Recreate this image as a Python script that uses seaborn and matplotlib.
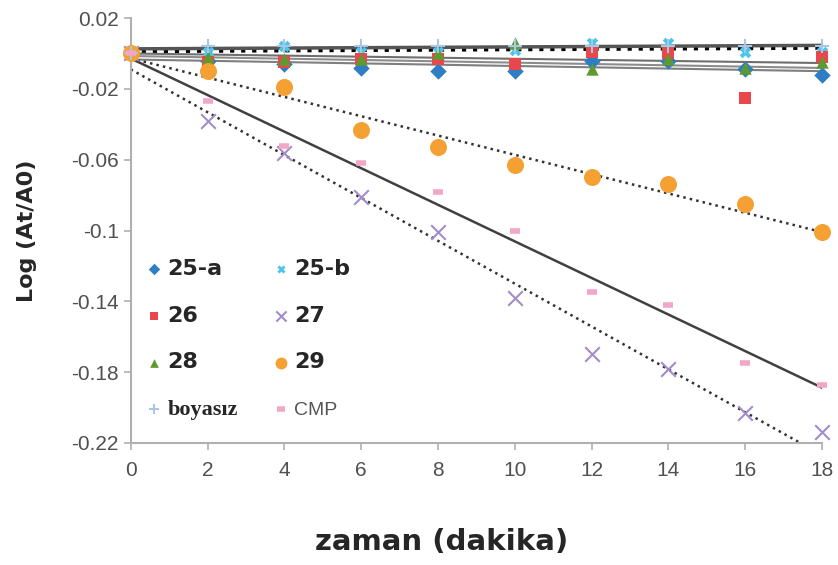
import matplotlib
matplotlib.use("Agg")
import matplotlib.pyplot as plt
import seaborn as sns
import pandas as pd

# time (minutes)
zaman = [0, 2, 4, 6, 8, 10, 12, 14, 16, 18]

# Log(At/A0) per sample
s25a = [0, -0.004, -0.006, -0.008, -0.010, -0.010, -0.004, -0.004, -0.009, -0.012]
s25b = [0, 0.001, 0.004, 0.001, 0.001, 0.002, 0.006, 0.006, 0.001, 0.001]
s26 = [0, -0.005, -0.005, -0.003, -0.003, -0.006, 0.001, 0.000, -0.025, -0.002]
s27 = [0, -0.038, -0.056, -0.081, -0.101, -0.138, -0.170, -0.178, -0.203, -0.214]
s28 = [0, -0.002, -0.003, -0.003, 0.000, 0.006, -0.009, -0.003, -0.008, -0.005]
s29 = [0, -0.010, -0.019, -0.043, -0.053, -0.063, -0.070, -0.074, -0.085, -0.101]
boyasiz = [0, 0.004, 0.004, 0.004, 0.004, 0.004, 0.004, 0.004, 0.004, 0.004]
cmp_vals = [0, -0.027, -0.052, -0.062, -0.078, -0.100, -0.135, -0.142, -0.175, -0.187]

labels = ["25-a", "25-b", "26", "27", "28", "29", "boyasız", "CMP"]
series = [s25a, s25b, s26, s27, s28, s29, boyasiz, cmp_vals]
colors = ["#2e7ec4", "#4cc6e8", "#e8484c", "#a48cc8", "#5f9a30", "#f5a033", "#a9c6e6", "#f2a7c6"]
markers = ["D", "X", "s", "x", "^", "o", "+", "_"]
sizes = [70, 70, 70, 110, 80, 150, 110, 60]

sns.set_style("ticks")
fig, ax = plt.subplots(figsize=(8.38, 5.65), dpi=100)
fig.subplots_adjust(left=0.156, right=0.981, bottom=0.216, top=0.968)

# trend lines first (under the points)
trend = {"25-a": ("#7f7f7f", "-", 1.5), "26": ("#8c8c8c", "-", 1.5),
         "28": ("#6f6f6f", "-", 1.5), "boyasız": ("#555555", "-", 2.5),
         "25-b": ("black", ":", 3.0), "27": ("#333333", ":", 1.8),
         "29": ("#333333", ":", 1.8), "CMP": ("#404040", "-", 1.8)}
for lab, vals in zip(labels, series):
    c, ls, lw = trend[lab]
    sns.regplot(x=zaman, y=vals, ax=ax, scatter=False, ci=None,
                line_kws=dict(color=c, ls=ls, lw=lw))

for lab, vals, c, m, s in zip(labels, series, colors, markers, sizes):
    df = pd.DataFrame({"zaman": zaman, "y": vals})
    if m in ("x", "+"):
        kw = dict(linewidth=1.5)
    elif m == "_":
        kw = dict(linewidth=4)
    else:
        kw = dict(linewidth=0)
    sns.scatterplot(data=df, x="zaman", y="y", ax=ax, color=c, marker=m, s=s,
                    label=lab, zorder=3, clip_on=False, **kw)

ax.set_xlim(0, 18)
ax.set_ylim(-0.22, 0.02)
ax.set_xticks(range(0, 19, 2))
ax.set_yticks([0.02, -0.02, -0.06, -0.1, -0.14, -0.18, -0.22])
ax.set_yticklabels(["0.02", "-0.02", "-0.06", "-0.1", "-0.14", "-0.18", "-0.22"])
for sp in ["top", "right"]:
    ax.spines[sp].set_visible(False)
for sp in ["left", "bottom"]:
    ax.spines[sp].set_color("#b0b0b0")
    ax.spines[sp].set_linewidth(1.5)
ax.tick_params(colors="#b0b0b0", labelcolor="#505050", labelsize=15, length=5, width=1.2)
ax.tick_params(axis="x", pad=8)
for t in ax.get_xticklabels() + ax.get_yticklabels():
    t.set_family("Liberation Sans")

ax.set_xlabel("zaman (dakika)", fontsize=21, fontweight="bold")
ax.xaxis.set_label_coords(0.45, -0.2)
ax.set_ylabel("Log (At/A0)", fontsize=16, fontweight="bold")
ax.yaxis.set_label_coords(-0.135, 0.5)

# legend filled row by row like the original
h, l = ax.get_legend_handles_labels()
order = [0, 2, 4, 6, 1, 3, 5, 7]
leg = ax.legend([h[i] for i in order], [l[i] for i in order], ncol=2, loc="upper left",
                bbox_to_anchor=(-0.008, 0.48), frameon=False,
                fontsize=16, labelspacing=1.2, columnspacing=1.55,
                handletextpad=0.2, handlelength=0.8, markerscale=0.7)
for t in leg.get_texts():
    if t.get_text() == "boyasız":
        t.set_family("Liberation Serif")
        t.set_fontweight("bold")
    elif t.get_text() == "CMP":
        t.set_family("Liberation Sans")
        t.set_color("#555555")
        t.set_fontsize(14)
    else:
        t.set_fontweight("bold")

fig.savefig("out.png", dpi=100)
